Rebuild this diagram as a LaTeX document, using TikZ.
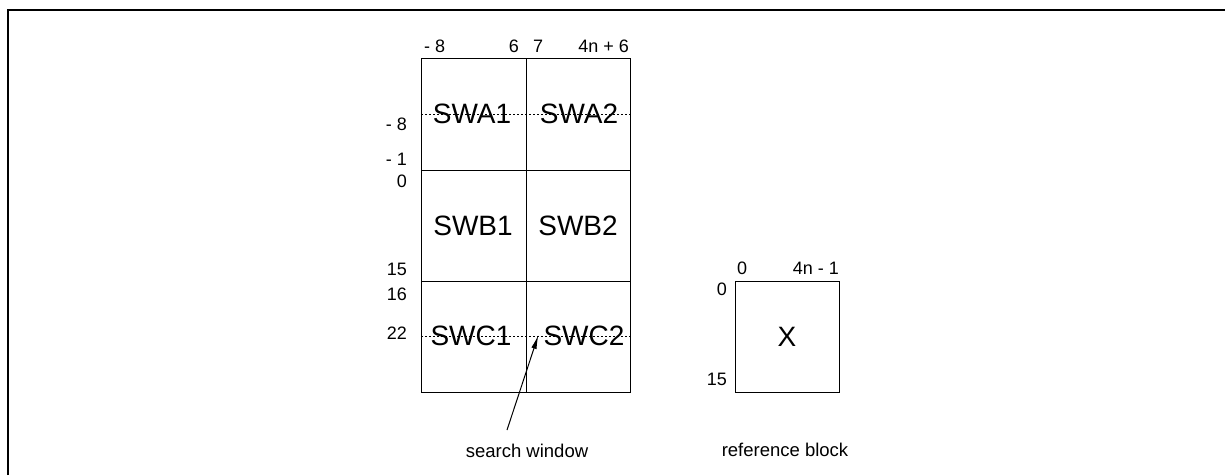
\documentclass[tikz,border=0pt]{standalone}
\usepackage{fontspec}
\setmainfont{Liberation Sans}
\usetikzlibrary{arrows.meta}

\begin{document}
\begin{tikzpicture}[x=1pt,y=-1pt,>={Latex[length=14pt,width=5.5pt]},block name/.style={inner sep=1pt,font=\fontsize{28}{30}\selectfont},index text/.style={inner sep=0pt,font=\fontsize{18}{20}\selectfont},caption text/.style={inner sep=0pt,font=\fontsize{18.5}{20}\selectfont},window line/.style={dash pattern=on 2pt off 2pt,line width=0.6pt},cell line/.style={line width=0.8pt}]
 \useasboundingbox (0,0) rectangle (1225,475);
 \draw[line width=1.5pt] (8,475) -- (8,10) -- (1225,10);

 % search window
 \draw[cell line] (421,58) rectangle (630,392);
 \draw[cell line] (526,58) -- (526,392);
 \foreach \y in {170,281}
    \draw[cell line] (421,\y) -- (630,\y);
 \foreach \y in {114,336}
    \draw[window line] (421,\y) -- (630,\y);

 \node[block name] (swa1) at (472,114) {SWA1};
 \node[block name] (swa2) at (579,114) {SWA2};
 \node[block name] (swb1) at (473,226) {SWB1};
 \node[block name] (swb2) at (578,226) {SWB2};
 \node[block name] (swc1) at (471,336) {SWC1};
 \node[block name] (swc2) at (584,336) {SWC2};

 \foreach \x/\xtext/\side in {424/- 8/west,519/6/east,533/7/west,629/4n + 6/east}
    \node[index text,anchor=base \side] (top\x) at (\x,52) {\xtext};
 \foreach \y/\ytext in {130/- 8,165/- 1,187/0,275/15,300/16,339/22}
    \node[index text,anchor=base east] (left\y) at (407,\y) {\ytext};

 % reference block
 \node[draw,cell line,minimum width=104pt,minimum height=111pt,block name] (ref) at (787,336.5) {X};
 \node[index text,anchor=base west] (reftop0) at (737,274) {0};
 \node[index text,anchor=base east] (reftopn) at (839,274) {4n - 1};
 \node[index text,anchor=base east] (refleft0) at (727,295) {0};
 \node[index text,anchor=base east] (refleft15) at (727,385) {15};

 % captions
 \node[caption text,anchor=base] (swtext) at (527,457.5) {search window};
 \node[caption text,anchor=base] (reftext) at (785,456.5) {reference block};
 \coordinate (tail) at (507,430);
 \draw[->,line width=1pt] (tail) -- ([xshift=-4pt,yshift=1pt]swc2.west);
\end{tikzpicture}
\end{document}
